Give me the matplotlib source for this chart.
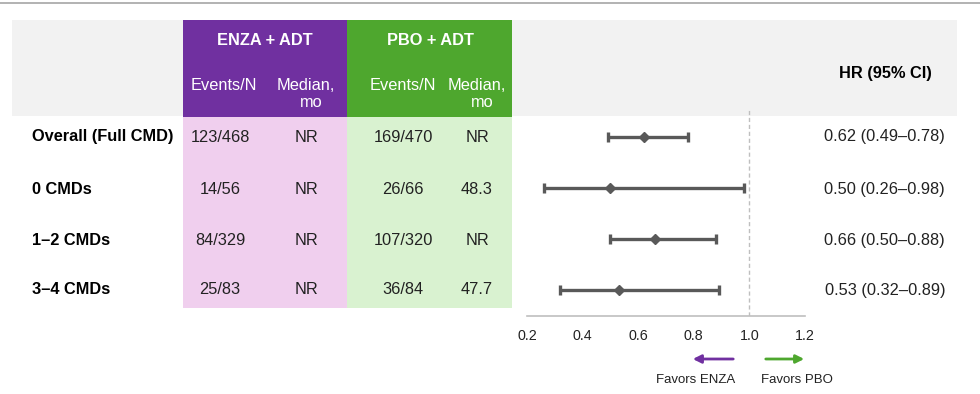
import numpy as np
import matplotlib.pyplot as plt
from matplotlib.patches import Rectangle

plt.rcParams['font.family'] = ['Liberation Sans', 'DejaVu Sans']

# data
groups = ['Overall (Full CMD)', '0 CMDs', '1\u20132 CMDs', '3\u20134 CMDs']
enza_events = ['123/468', '14/56', '84/329', '25/83']
enza_median = ['NR', 'NR', 'NR', 'NR']
pbo_events = ['169/470', '26/66', '107/320', '36/84']
pbo_median = ['NR', '48.3', 'NR', '47.7']
hr = [0.62, 0.50, 0.66, 0.53]
ci_lo = [0.49, 0.26, 0.50, 0.32]
ci_hi = [0.78, 0.98, 0.88, 0.89]
xticks = [0.2, 0.4, 0.6, 0.8, 1.0, 1.2]

purple = '#7030A0'
green = '#4EA72E'
pink = '#F0CFEE'
lgreen = '#D9F2D0'
hdr_gray = '#F2F2F2'
dark = '#595959'

W, H = 980, 394
fig = plt.figure(figsize=(W / 100, H / 100), dpi=100)

# background axes in pixel coords
bg = fig.add_axes([0, 0, 1, 1])
bg.set_xlim(0, W)
bg.set_ylim(H, 0)
bg.axis('off')

bg.plot([0, W], [3, 3], color='#A6A6A6', lw=1.2)
bg.add_patch(Rectangle((12, 20), 945, 96, color=hdr_gray, lw=0))
bg.add_patch(Rectangle((183, 20), 164, 97, color=purple, lw=0))
bg.add_patch(Rectangle((347, 20), 165, 97, color=green, lw=0))
bg.add_patch(Rectangle((183, 117), 164, 191, color=pink, lw=0))
bg.add_patch(Rectangle((347, 117), 165, 191, color=lgreen, lw=0))

fs = 11.8
bg.text(265, 40, 'ENZA + ADT', color='white', fontsize=fs, fontweight='bold', ha='center', va='center')
bg.text(430, 40, 'PBO + ADT', color='white', fontsize=fs, fontweight='bold', ha='center', va='center')
bg.text(224, 85, 'Events/N', color='white', fontsize=fs, ha='center', va='center')
bg.text(306, 85, 'Median,', color='white', fontsize=fs, ha='center', va='center')
bg.text(311, 102, 'mo', color='white', fontsize=fs, ha='center', va='center')
bg.text(403, 85, 'Events/N', color='white', fontsize=fs, ha='center', va='center')
bg.text(477, 85, 'Median,', color='white', fontsize=fs, ha='center', va='center')
bg.text(482, 102, 'mo', color='white', fontsize=fs, ha='center', va='center')
bg.text(885, 73, 'HR (95% CI)', color='black', fontsize=fs, fontweight='bold', ha='center', va='center')

row_y = [137, 189, 240, 290]
for i, y in enumerate(row_y):
    bg.text(32, y, groups[i], fontsize=fs, fontweight='bold', ha='left', va='center')
    bg.text(220, y, enza_events[i], fontsize=fs, ha='center', va='center', color='#222222')
    bg.text(306, y, enza_median[i], fontsize=fs, ha='center', va='center', color='#222222')
    bg.text(403, y, pbo_events[i], fontsize=fs, ha='center', va='center', color='#222222')
    bg.text(477, y, pbo_median[i], fontsize=fs, ha='center', va='center', color='#222222')
    bg.text(945, y, f'{hr[i]:.2f} ({ci_lo[i]:.2f}\u2013{ci_hi[i]:.2f})', fontsize=fs,
            ha='right', va='center', color='#222222')

# arrows
bg.annotate('', xy=(690, 359), xytext=(736, 359),
            arrowprops=dict(arrowstyle='-|>', color=purple, lw=2, mutation_scale=12))
bg.annotate('', xy=(807, 359), xytext=(763, 359),
            arrowprops=dict(arrowstyle='-|>', color=green, lw=2, mutation_scale=12))
bg.text(696, 380, 'Favors ENZA', fontsize=9.5, ha='center', va='center', color='#222222')
bg.text(797, 380, 'Favors PBO', fontsize=9.5, ha='center', va='center', color='#222222')

# forest axes
top_px, bot_px = 110, 316
left_px, right_px = 527, 805
ax = fig.add_axes([left_px / W, 1 - bot_px / H, (right_px - left_px) / W, (bot_px - top_px) / H])
ax.patch.set_alpha(0)
step = (row_y[-1] - row_y[0]) / 3
ypos = np.arange(len(hr))
ax.set_ylim(3 + (bot_px - row_y[-1]) / step, -(row_y[0] - top_px) / step)
ax.set_xlim(0.2, 1.2)

ax.axvline(1.0, color='#BFBFBF', lw=1, ls=(0, (3, 2)))
hr_a = np.array(hr)
err = [hr_a - np.array(ci_lo), np.array(ci_hi) - hr_a]
ax.errorbar(hr, ypos, xerr=err, fmt='D', color=dark, ms=5.5, lw=2.4, capsize=3.5, capthick=2.4)

for s in ['top', 'left', 'right']:
    ax.spines[s].set_visible(False)
ax.spines['bottom'].set_color('#BFBFBF')
ax.spines['bottom'].set_linewidth(1.2)
ax.set_yticks([])
ax.set_xticks(xticks)
ax.set_xticklabels([f'{t:.1f}' for t in xticks], fontsize=10.3, color='#222222')
ax.tick_params(axis='x', length=0, pad=9)

fig.savefig('out.png', dpi=100)
